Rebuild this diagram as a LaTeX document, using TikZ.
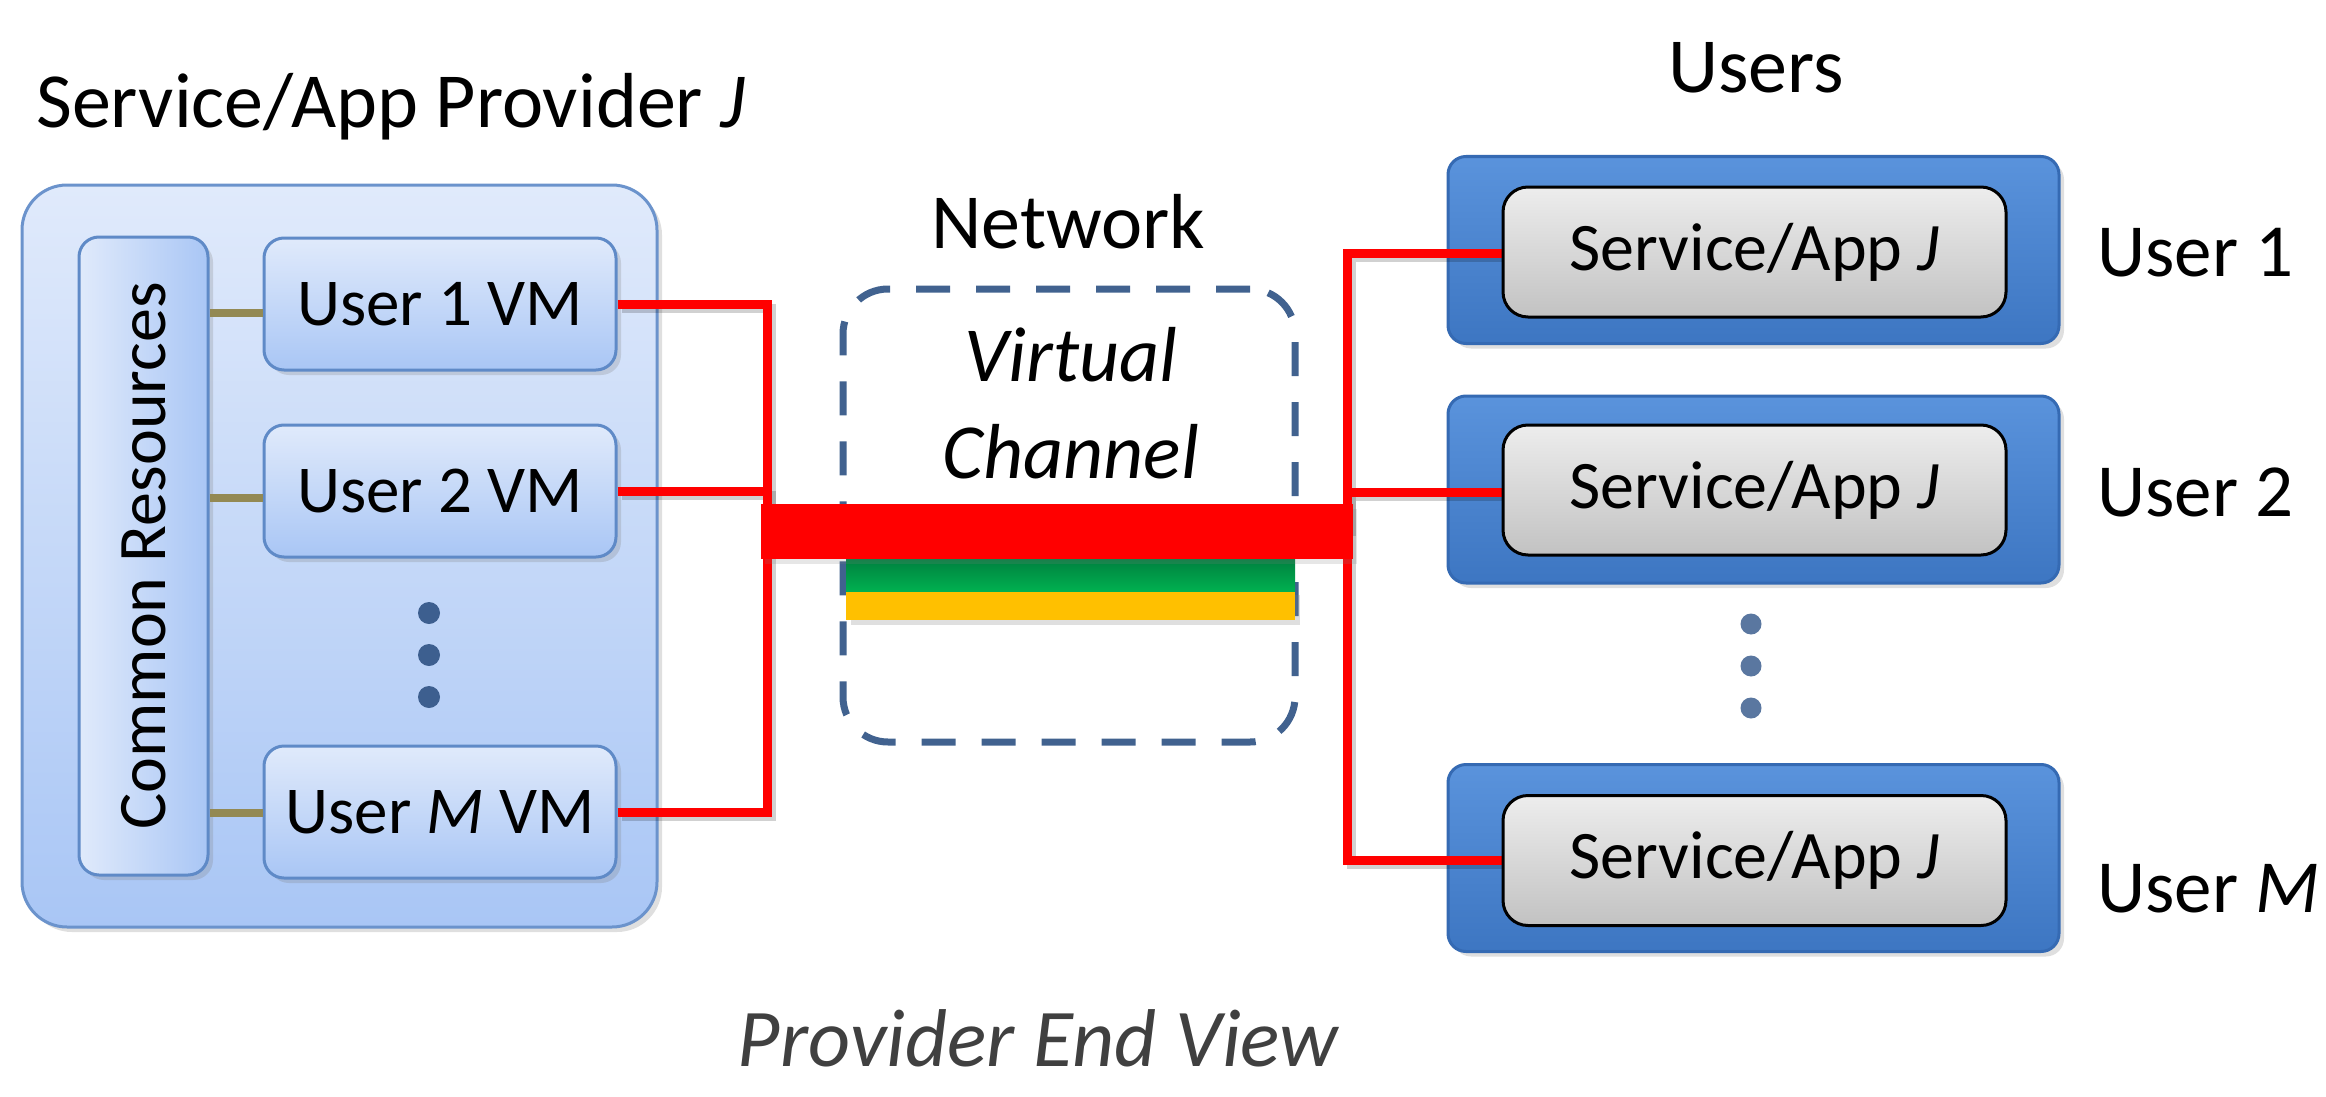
\documentclass[tikz,border=0pt]{standalone}
\usepackage{fontspec}
\setmainfont{Carlito}
\usetikzlibrary{shadows,calc}
\definecolor{boxedge}{HTML}{6B93CC}
\definecolor{boxtop}{HTML}{E0EAFB}
\definecolor{boxbot}{HTML}{A9C6F5}
\definecolor{vmedge}{HTML}{5F8AC7}
\definecolor{olivec}{HTML}{938953}
\definecolor{dotc}{HTML}{3D5F8F}
\definecolor{dashc}{HTML}{41628F}
\definecolor{greentop}{HTML}{00813F}
\definecolor{greenbot}{HTML}{00B050}
\definecolor{orangec}{HTML}{FFC000}
\definecolor{bluetop}{HTML}{5A93DC}
\definecolor{bluebot}{HTML}{3D76C2}
\definecolor{blueedge}{HTML}{356AB3}
\definecolor{graytop}{HTML}{EDEDED}
\definecolor{graybot}{HTML}{C2C2C2}
\definecolor{capc}{HTML}{404040}
\definecolor{redc}{HTML}{FF0000}
\tikzset{
  softshadow/.style={drop shadow={opacity=0.25, shadow xshift=5pt, shadow yshift=-5pt}},
  outerbox/.style={draw=boxedge, line width=3pt, rounded corners=45pt, top color=boxtop, bottom color=boxbot, minimum width=635pt, minimum height=742pt, inner sep=0pt, softshadow},
  crbox/.style={draw=vmedge, line width=3pt, rounded corners=20pt, left color=boxtop, right color=boxbot, minimum width=129pt, minimum height=638pt, inner sep=0pt, softshadow},
  vmbox/.style={draw=vmedge, line width=3pt, rounded corners=20pt, top color=boxtop, bottom color=boxbot, minimum width=352pt, minimum height=132pt, inner sep=0pt, softshadow, font=\fontsize{67}{80}\selectfont},
  bluebox/.style={draw=blueedge, line width=3pt, rounded corners=18pt, top color=bluetop, bottom color=bluebot, minimum width=611pt, minimum height=187pt, inner sep=0pt, softshadow},
  graybox/.style={draw=black, line width=3pt, rounded corners=25pt, top color=graytop, bottom color=graybot, minimum width=503pt, minimum height=130pt, inner sep=0pt, font=\fontsize{68}{80}\selectfont},
  dashbox/.style={draw=dashc, line width=7pt, dash pattern=on 34pt off 26pt, rounded corners=45pt, minimum width=452pt, minimum height=453pt, inner sep=0pt},
  redline/.style={draw=redc, line width=9pt, preaction={draw=black, opacity=0.18, line width=9pt, transform canvas={shift={(4pt,-4pt)}}}},
  oliveline/.style={draw=olivec, line width=8pt},
  dotl/.style={circle, fill=dotc, minimum size=22pt, inner sep=0pt},
  dotr/.style={circle, fill=dotc!85!white, minimum size=21pt, inner sep=0pt},
  bigtext/.style={font=\fontsize{78}{90}\selectfont, inner sep=0pt},
  userlab/.style={font=\fontsize{75}{90}\selectfont, inner sep=0pt, anchor=base west},
}
\begin{document}
\begin{tikzpicture}[x=1pt,y=-1pt]
\useasboundingbox (0,0) rectangle (2326,1097);

% titles
\node[bigtext, anchor=base west] (ptitle) at (36,128) {Service/App Provider \textit{J}};
\node[bigtext, anchor=base] (utitle) at (1756,93) {Users};
\node[bigtext, anchor=base] (ntitle) at (1068,248) {Network};
\node[font=\fontsize{82}{95}\selectfont\itshape, text=capc, anchor=base, inner sep=0pt] (caption) at (1038,1066) {Provider End View};

% provider side
\node[outerbox] (outer) at (339.5,556) {};
\node[crbox] (cr) at (143.5,556) {};
\node[rotate=90, font=\fontsize{68}{80}\selectfont, inner sep=0pt] (crtext) at (cr.center) {Common Resources};
\node[vmbox] (vm1) at (440,304) {User 1 VM};
\node[vmbox] (vm2) at (440,491) {User 2 VM};
\node[vmbox] (vmM) at (440,812) {User \textit{M} VM};
\node[dotl] (ld1) at (429,613) {};
\node[dotl] (ld2) at (429,655) {};
\node[dotl] (ld3) at (429,697) {};
\draw[oliveline] (cr.east |- 0,313) coordinate (o1) -- (vm1.west |- o1);
\draw[oliveline] (cr.east |- 0,498) coordinate (o2) -- (vm2.west |- o2);
\draw[oliveline] (cr.east |- 0,813) coordinate (o3) -- (vmM.west |- o3);

% network
\node[dashbox] (net) at (1069,515.5) {};
\node[bigtext, anchor=base] (virt) at (1071,381) {\textit{Virtual}};
\node[bigtext, anchor=base] (chan) at (1071,478) {\textit{Channel}};
\node[fill=orangec, minimum width=449pt, minimum height=30pt, inner sep=0pt, softshadow] (orange) at (1070.5,605) {};
\node[top color=greentop, bottom color=greenbot, minimum width=449pt, minimum height=32pt, inner sep=0pt] (green) at (1070.5,575) {};
\coordinate (busL) at (767,531.5);
\coordinate (busR) at (1347,531.5);

% users side
\node[bluebox] (ub1) at (1753.5,250) {};
\node[bluebox] (ub2) at (1753.5,489.5) {};
\node[bluebox] (ubM) at (1753.5,858) {};
\draw[redline] (vm1.east) -| (busL);
\draw[redline] (vm2.east) -| (busL);
\draw[redline] (vmM.east) -| (busL);
\draw[redline] (busR) |- (1504,253) coordinate (r1);
\draw[redline] (busR) |- (1504,492) coordinate (r2);
\draw[redline] (busR) |- (1504,860) coordinate (r3);
\node[fill=redc, minimum width=592pt, minimum height=55pt, inner sep=0pt, drop shadow={opacity=0.2, shadow xshift=4pt, shadow yshift=-5pt}] (bar) at (1057,531.5) {};
\node[graybox] (app1) at (1754.5,252) {Service/App \textit{J}};
\node[graybox] (app2) at (1754.5,490) {Service/App \textit{J}};
\node[graybox] (appM) at (1754.5,860.5) {Service/App \textit{J}};
\node[dotr] (rd1) at (1751,624) {};
\node[dotr] (rd2) at (1751,666) {};
\node[dotr] (rd3) at (1751,708) {};
\node[userlab] (u1) at (2097,276) {User 1};
\node[userlab] (u2) at (2097,516) {User 2};
\node[userlab] (uM) at (2097,912) {User \textit{M}};
\end{tikzpicture}
\end{document}
